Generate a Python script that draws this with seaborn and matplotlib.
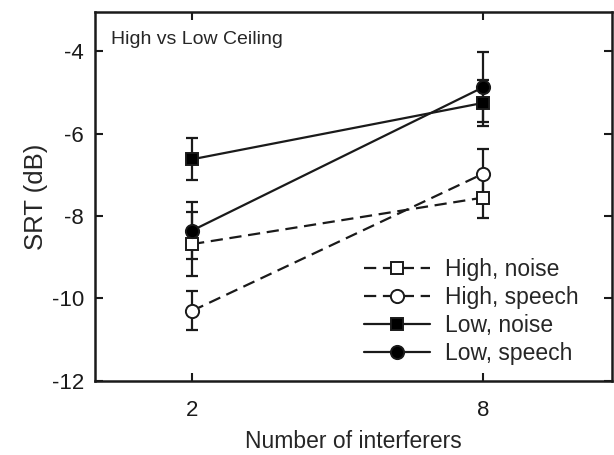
import seaborn as sns
import matplotlib.pyplot as plt
import numpy as np
import pandas as pd

# data
interferers = ['2', '8']
series = ['High, noise', 'High, speech', 'Low, noise', 'Low, speech']
srt_high_noise = [-8.68, -7.55]
srt_high_speech = [-10.30, -6.97]
srt_low_noise = [-6.62, -5.25]
srt_low_speech = [-8.35, -4.87]
err_high_noise = [0.78, 0.50]
err_high_speech = [0.47, 0.60]
err_low_noise = [0.51, 0.55]
err_low_speech = [0.70, 0.85]

means = [srt_high_noise, srt_high_speech, srt_low_noise, srt_low_speech]
errs = [err_high_noise, err_high_speech, err_low_noise, err_low_speech]
markers = ['s', 'o', 's', 'o']
fills = ['white', 'white', 'black', 'black']
styles = [(0, (5.5, 3)), (0, (5.5, 3)), '-', '-']

sns.set_style('ticks')
plt.rcParams['font.family'] = ['Liberation Sans', 'DejaVu Sans']

fig, ax = plt.subplots(figsize=(6.14, 4.55), dpi=100)
pos = np.arange(len(interferers))

for name, m, e, mk, fc, ls in zip(series, means, errs, markers, fills, styles):
    df = pd.DataFrame({'x': pos, 'y': m})
    ax.errorbar(df['x'], df['y'], yerr=e, fmt='none', ecolor='#1a1a1a',
                elinewidth=1.6, capsize=4.5, capthick=1.6, zorder=2)
    sns.lineplot(data=df, x='x', y='y', ax=ax, color='#1a1a1a', linestyle=ls,
                 marker=mk, markersize=9.5 if mk == 'o' else 9,
                 markerfacecolor=fc, markeredgecolor='#1a1a1a',
                 markeredgewidth=1.4, linewidth=1.6, label=name, zorder=3)

ax.set_xlim(-0.333, 1.443)
ax.set_ylim(-12, -3.05)
ax.set_xticks(pos)
ax.set_xticklabels(interferers)
ax.set_yticks([-12, -10, -8, -6, -4])
ax.set_yticklabels(['-12', '-10', '-8', '-6', '-4'])
ax.tick_params(direction='in', length=6, width=1.5, labelsize=16,
               top=True, right=True, pad=8, colors='#1a1a1a')
ax.tick_params(axis='x', pad=14)
for s in ax.spines.values():
    s.set_linewidth(1.8)
    s.set_color('#1a1a1a')

ax.set_xlabel('Number of interferers', fontsize=16.5, labelpad=6)
ax.set_ylabel('SRT (dB)', fontsize=18.5, labelpad=3)
ax.text(0.03, 0.95, 'High vs Low Ceiling', transform=ax.transAxes,
        fontsize=14, va='top', ha='left')

leg = ax.legend(loc='lower right', frameon=False, fontsize=16.5,
                handlelength=2.9, handletextpad=0.65, labelspacing=0.22,
                bbox_to_anchor=(0.975, -0.014))

fig.subplots_adjust(left=0.155, right=0.997, top=0.973, bottom=0.163)
fig.savefig('out.png', dpi=100)
